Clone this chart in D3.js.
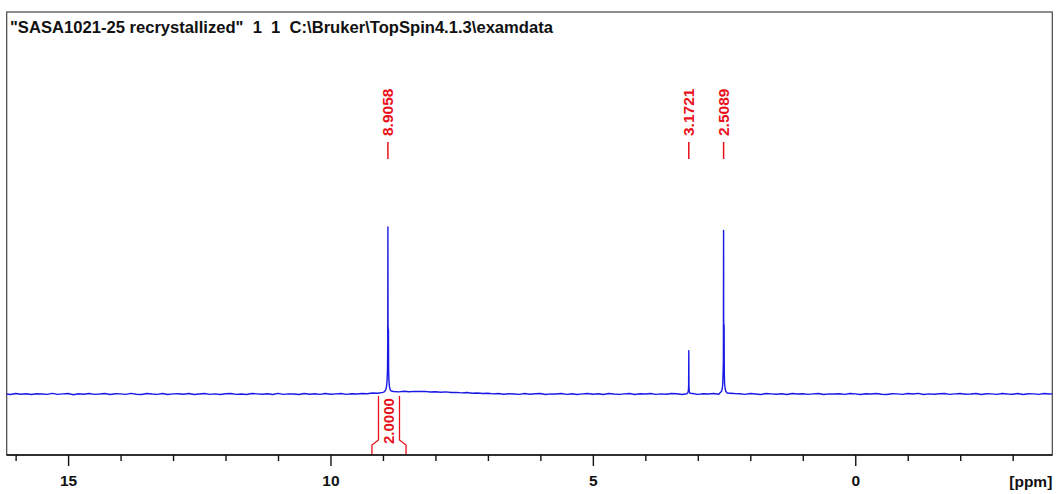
<!DOCTYPE html>
<html>
<head>
<meta charset="utf-8">
<script src="https://cdn.jsdelivr.net/npm/d3@7/dist/d3.min.js"></script>
<style>
  html, body { margin: 0; padding: 0; background: #fff; }
  svg { display: block; font-family: "Liberation Sans", Arial, sans-serif; }
</style>
</head>
<body>
<svg id="chart" width="1058" height="494"></svg>
<script>
// ---- data ----------------------------------------------------------------
const titleText = '"SASA1021-25 recrystallized"  1  1  C:\\Bruker\\TopSpin4.1.3\\examdata';

// chemical-shift range of the plot (ppm, high field on the right)
const ppmRange = [16.17, -3.755];
const intensityRange = [-36.5, 228.7];

// baseline trace sampled every 0.1 ppm from 16.2 down to -3.8 ppm
const baselineStart = 16.2;
const baselineStep = 0.1;
const baselineValues = [
   0.1, -0.3,  0.3, -0.1,  0.2, -0.3,  0.2,  0.0, -0.2,  0.4, -0.2,  0.1,  0.3, -0.4,  0.2, -0.1,  0.3, -0.2,  0.0,  0.3,
  -0.3,  0.2,  0.1, -0.2,  0.4, -0.1, -0.3,  0.3,  0.0, -0.2,  0.3, -0.3,  0.1,  0.2, -0.1,  0.3, -0.3,  0.0,  0.3, -0.2,
   0.1, -0.3,  0.2,  0.3, -0.2,  0.0, -0.3,  0.3,  0.1, -0.1,  0.2, -0.3,  0.4, -0.2,  0.1,  0.0, -0.3,  0.3, -0.1,  0.2,
  -0.2,  0.3, -0.1,  0.1,  0.3, -0.2,  0.2,  0.0,  0.3,  0.2,  0.6,  0.5,  1.0,  1.3,  1.5,  1.3,  1.7,  1.4,  1.6,  1.5,
   1.6,  1.2,  1.4,  1.1,  1.3,  0.9,  1.0,  0.7,  0.9,  0.5,  0.6,  0.3,  0.5,  0.1,  0.3, -0.1,  0.2,  0.0, -0.2,  0.3,
  -0.1,  0.2,  0.3, -0.3,  0.1,  0.0,  0.3, -0.2,  0.2, -0.3,  0.1,  0.3, -0.1,  0.2, -0.3,  0.3,  0.0, -0.2,  0.1,  0.3,
  -0.3,  0.2,  0.0,  0.3, -0.2,  0.1, -0.1,  0.3,  0.2, -0.3,  0.1,  0.3, -0.2,  0.2,  0.0,  0.3, -0.1,  0.5,  0.5,  0.3,
   0.2, -0.2,  0.3,  0.0, -0.3,  0.3,  0.1, -0.1,  0.2, -0.3,  0.3,  0.0,  0.2, -0.2,  0.1,  0.3, -0.3,  0.1,  0.0,  0.2,
  -0.2,  0.3,  0.1, -0.3,  0.2,  0.0,  0.3, -0.1, -0.3,  0.2,  0.1, -0.2,  0.3,  0.0,  0.4, -0.3,  0.1, -0.1,  0.2,  0.3,
  -0.2,  0.1,  0.3, -0.1,  0.0,  0.3, -0.3,  0.2,  0.1, -0.2,  0.3,  0.0, -0.1,  0.3, -0.3,  0.2,  0.1, -0.2,  0.3,  0.0,
   0.1
];

// resonance line shapes: [ppm, intensity] points across each signal
const peak8_9058 = [
  [8.97, 1.4], [8.945, 2.6], [8.93, 5], [8.92, 9], [8.914, 14], [8.909, 30],
  [8.9058, 100], [8.903, 40], [8.895, 38], [8.892, 14], [8.886, 8], [8.876, 4.2],
  [8.86, 2.4], [8.84, 1.8]
];
const peak3_1721 = [
  [3.21, 0.2], [3.19, 0.8], [3.18, 2], [3.175, 5.5], [3.1721, 26], [3.169, 5],
  [3.163, 1.5], [3.15, 0.5]
];
const peak2_5089 = [
  [2.58, 0.6], [2.55, 1.5], [2.535, 3], [2.525, 6], [2.518, 13], [2.513, 20],
  [2.5095, 98], [2.5089, 97], [2.507, 42], [2.499, 41], [2.496, 14], [2.49, 6],
  [2.478, 3], [2.465, 1.5], [2.44, 0.6]
];
const peakShapes = [peak8_9058, peak3_1721, peak2_5089];

// picked peaks
const peakLabels = ["8.9058", "3.1721", "2.5089"];
const peakPositions = [8.9058, 3.1721, 2.5089];

// integral regions [from, to] ppm and their values
const integralRanges = [[9.21, 8.56]];
const integralValues = ["2.0000"];

// axis ticks
const majorTicks = [15, 10, 5, 0];
const minorTicks = [16, 14, 13, 12, 11, 9, 8, 7, 6, 4, 3, 2, 1, -1, -2, -3];
const axisUnit = "[ppm]";

// ---- layout ----------------------------------------------------------------
const frame = { left: 6.7, right: 1052.3, top: 12, bottom: 455 };
const blue = "#1a1ae6";
const red = "#e8101a";

const svg = d3.select("#chart");

const x = d3.scaleLinear().domain(ppmRange).range([frame.left, frame.right]);
const y = d3.scaleLinear().domain(intensityRange).range([frame.bottom, frame.top]);

// frame
svg.append("rect")
  .attr("x", frame.left).attr("y", frame.top)
  .attr("width", frame.right - frame.left).attr("height", frame.bottom - frame.top)
  .attr("fill", "none").attr("stroke", "#444").attr("stroke-width", 1.2);

// title
svg.append("text")
  .attr("x", 10).attr("y", 33)
  .style("white-space", "pre")
  .attr("font-size", 16.6).attr("font-weight", "bold").attr("fill", "#111")
  .text(titleText);

// ---- spectrum trace ----------------------------------------------------------
const windows = peakShapes.map(p => [d3.max(p, d => d[0]), d3.min(p, d => d[0])]);
const trace = [];
baselineValues.forEach((v, i) => {
  const ppm = +(baselineStart - i * baselineStep).toFixed(3);
  if (!windows.some(w => ppm <= w[0] && ppm >= w[1])) trace.push([ppm, v]);
});
peakShapes.forEach(p => p.forEach(d => trace.push(d)));
trace.sort((a, b) => b[0] - a[0]);

svg.append("clipPath").attr("id", "plot-clip")
  .append("rect")
  .attr("x", frame.left).attr("y", frame.top)
  .attr("width", frame.right - frame.left).attr("height", frame.bottom - frame.top);

svg.append("path")
  .datum(trace)
  .attr("clip-path", "url(#plot-clip)")
  .attr("fill", "none")
  .attr("stroke", blue)
  .attr("stroke-width", 1.4)
  .attr("stroke-linejoin", "round")
  .attr("d", d3.line().x(d => x(d[0])).y(d => y(d[1])));

// ---- peak labels -------------------------------------------------------------
const peakG = svg.append("g");
peakPositions.forEach((ppm, i) => {
  const px = x(ppm);
  peakG.append("line")
    .attr("x1", px).attr("x2", px).attr("y1", 142).attr("y2", 159)
    .attr("stroke", red).attr("stroke-width", 1.5);
  peakG.append("text")
    .attr("transform", `translate(${px + 5.5},136) rotate(-90)`)
    .attr("font-size", 15.5).attr("font-weight", "bold").attr("fill", red)
    .text(peakLabels[i]);
});

// ---- integral labels ---------------------------------------------------------
integralRanges.forEach((r, i) => {
  const xa = x(r[0]), xb = x(r[1]);
  const cx = (xa + xb) / 2;
  const half = 10.5;
  const g = svg.append("g").attr("fill", "none").attr("stroke", red).attr("stroke-width", 1.3);
  g.append("path").attr("d",
    `M${cx - half},396 V440 L${xa},445 V${frame.bottom}`);
  g.append("path").attr("d",
    `M${cx + half},396 V440 L${xb},445 V${frame.bottom}`);
  svg.append("text")
    .attr("transform", `translate(${cx + 5.5},444) rotate(-90)`)
    .attr("font-size", 15).attr("font-weight", "bold").attr("fill", red)
    .text(integralValues[i]);
});

// ---- ppm axis ---------------------------------------------------------------
const axisG = svg.append("g").attr("transform", `translate(0,${frame.bottom})`);
axisG.append("g")
  .call(d3.axisBottom(x).tickValues(minorTicks).tickSize(6).tickFormat(""))
  .call(g => g.select(".domain").remove());
axisG.append("g")
  .call(d3.axisBottom(x).tickValues(majorTicks).tickSize(11).tickPadding(9).tickFormat(d3.format("d")))
  .call(g => g.select(".domain").remove());
axisG.selectAll(".tick line").attr("stroke", "#111").attr("stroke-width", 1.4);
axisG.selectAll(".tick text")
  .attr("font-family", "'Liberation Sans', Arial, sans-serif")
  .attr("font-size", 15.5).attr("font-weight", "bold").attr("fill", "#111");
svg.append("line")
  .attr("x1", frame.left).attr("x2", frame.right)
  .attr("y1", frame.bottom).attr("y2", frame.bottom)
  .attr("stroke", "#111").attr("stroke-width", 1.4);

svg.append("text")
  .attr("x", frame.right).attr("y", 487)
  .attr("text-anchor", "end")
  .attr("font-size", 15.5).attr("font-weight", "bold").attr("fill", "#111")
  .text(axisUnit);
</script>
</body>
</html>
